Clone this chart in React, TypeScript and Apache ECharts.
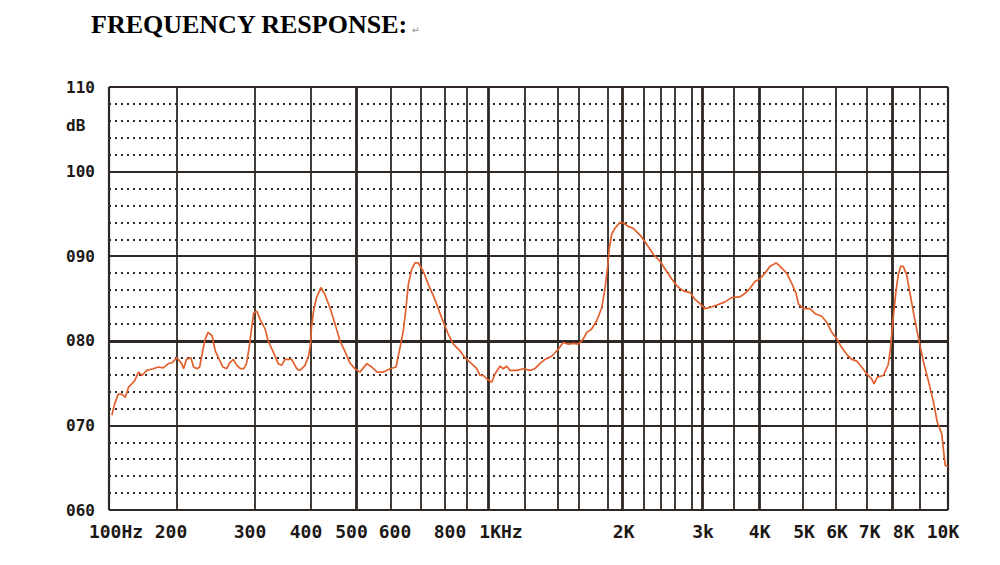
import React, { useEffect, useRef } from 'react';
import * as echarts from 'echarts';

// Printed frequency lines of the chart paper and their position on the paper scale
const gridFreqs = [100, 200, 300, 400, 500, 600, 700, 800, 900, 1000, 1200, 1400, 1600, 1800, 2000, 2200, 2400, 2600, 2800, 3000, 3500, 4000, 5000, 6000, 7000, 8000, 9000, 10000];
const gridPaper = [0, 68, 146, 202, 247.5, 282, 311.5, 336, 357.7, 379, 415.5, 448.3, 470.2, 498.5, 513.7, 534.7, 551.3, 565.7, 582.7, 593, 624.3, 650.7, 694, 727, 757.7, 783.7, 811, 839];
const boldFreqs = [500, 1000, 2000, 3000, 4000, 8000];

// Tick labels
const xLabelFreqs = [100, 200, 300, 400, 500, 600, 800, 1000, 2000, 3000, 4000, 5000, 6000, 7000, 8000, 10000];
const xLabelTexts = ['100Hz', '200', '300', '400', '500', '600', '800', '1KHz', '2K', '3k', '4K', '5K', '6K', '7K', '8K', '10K'];
const xLabelNudge = [7, -6, -5, -5, -5, 4, 5, 13, 1, 1, 0, 1, 1, 3, 11, -5];
const yLabelValues = [60, 70, 80, 90, 100, 110];
const yUnitLabel = 'dB';

// Measured response: frequency (Hz) and level (dB)
const freqHz = [
  103, 106, 110, 114, 118, 122, 126, 130, 135, 140, 147, 157, 165, 174, 183, 190, 200,
  205, 207, 210, 215, 218, 222, 225, 227, 231, 235, 240, 244, 248, 254, 259, 263, 268, 273, 278, 283, 287, 291, 295, 298,
  303, 308, 316, 321, 330, 338, 344, 350, 362, 372, 378, 388, 395, 399,
  401, 405, 411, 420, 428, 439, 450, 461, 472, 484, 496,
  509, 528, 542, 558, 576, 597,
  616, 629, 640, 649, 657, 668, 680, 692,
  711, 730, 757, 786,
  814, 837, 868, 892,
  922, 946, 961, 978, 994,
  1019, 1036, 1062, 1079, 1098, 1116, 1154, 1193,
  1231, 1260, 1290, 1321, 1365,
  1408, 1452, 1497, 1544, 1592,
  1627, 1651, 1685, 1722, 1757, 1781,
  1800, 1823, 1854, 1895, 1964,
  2012, 2052, 2098, 2164,
  2235, 2315, 2397,
  2487, 2558,
  2623, 2699, 2780,
  2862, 2960,
  3044, 3146, 3252, 3360, 3471,
  3623, 3713, 3809, 3905, 4003,
  4111, 4220, 4352, 4402, 4597, 4717, 4824, 4881,
  5004, 5196, 5346, 5545, 5700, 5860,
  6014, 6173, 6331, 6494, 6660, 6824, 7000,
  7181, 7268, 7391, 7624, 7821, 7914,
  8009, 8115, 8195, 8282, 8374, 8496, 8625, 8766, 8936,
  9112, 9285, 9459, 9604, 9767, 9831, 9894, 10000,
];
const levelDb = [
  71.2, 72.6, 73.7, 73.7, 73.3, 74.5, 74.9, 75.3, 76.3, 75.9, 76.5, 76.7, 76.9, 76.8, 77.3, 77.4, 78.0,
  77.3, 76.7, 77.8, 78.0, 76.9, 76.7, 76.9, 78.0, 80.0, 81.0, 80.6, 78.8, 78.0, 76.9, 76.7, 77.4, 77.8, 77.1, 76.7, 76.7, 77.3, 79.2, 81.6, 83.3,
  83.5, 82.5, 81.4, 80.0, 78.6, 77.3, 77.1, 77.8, 77.8, 76.7, 76.5, 77.1, 78.2, 79.6,
  81.6, 83.5, 85.1, 86.3, 85.5, 83.9, 82.0, 80.0, 78.8, 77.4, 76.7,
  76.3, 77.3, 76.9, 76.3, 76.3, 76.7,
  76.9, 79.2, 81.2, 83.9, 86.7, 88.4, 89.2, 89.2,
  88.2, 86.7, 84.9, 82.7,
  80.8, 79.6, 78.8, 78.0,
  77.3, 76.7, 75.9, 75.9, 75.5,
  75.1, 76.1, 77.0, 76.7, 77.0, 76.5, 76.5, 76.7,
  76.5, 76.7, 77.3, 77.8, 78.2,
  79.0, 79.8, 79.6, 79.7, 79.6,
  80.2, 81.0, 81.4, 82.4, 83.9, 86.1,
  88.6, 91.0, 92.6, 93.3, 94.0,
  93.9, 93.5, 93.3, 92.5,
  91.4, 90.2, 89.4,
  88.2, 87.3,
  86.5, 85.9, 85.7,
  84.9, 84.4,
  83.8, 84.0, 84.3, 84.6, 85.1,
  85.2, 85.6, 86.2, 87.0, 87.3,
  88.0, 88.8, 89.2, 89.0, 88.0, 86.8, 85.6, 84.4,
  83.8, 83.8, 83.2, 82.9, 82.2, 81.0,
  80.3, 79.2, 78.4, 77.8, 77.6, 76.9, 76.1,
  75.5, 74.9, 75.7, 75.9, 77.2, 79.2,
  82.4, 85.9, 87.8, 88.8, 88.8, 87.8, 85.5, 83.1, 80.4,
  77.6, 75.3, 72.9, 70.4, 69.0, 67.1, 65.3, 65.1,
];

// Chart-paper frequency scale: logarithmic between each pair of printed lines
function freqToPaper(f: number): number {
  if (f <= gridFreqs[0]) return gridPaper[0];
  for (let i = 0; i < gridFreqs.length - 1; i++) {
    const f0 = gridFreqs[i];
    const f1 = gridFreqs[i + 1];
    if (f <= f1) {
      const t = Math.log(f / f0) / Math.log(f1 / f0);
      return gridPaper[i] + t * (gridPaper[i + 1] - gridPaper[i]);
    }
  }
  return gridPaper[gridPaper.length - 1];
}

const GRID_COLOR = '#2e2724';
const TEXT_COLOR = '#1c1816';
const MONO = '"DejaVu Sans Mono", "Liberation Mono", monospace';

export default function App() {
  const ref = useRef<HTMLDivElement>(null);

  useEffect(() => {
    if (!ref.current) return;
    const chart = echarts.init(ref.current, undefined, { renderer: 'svg' });

    const xLabelPos = xLabelFreqs.map((f, i) => freqToPaper(f) + xLabelNudge[i]);
    const xLabelText = (v: number) => {
      let best = 0;
      let bd = Infinity;
      xLabelPos.forEach((p, i) => {
        const d = Math.abs(p - v);
        if (d < bd) { bd = d; best = i; }
      });
      return xLabelTexts[best];
    };
    const unitPos = 105.5;
    const yCustom = [...yLabelValues.slice(0, 5), unitPos, yLabelValues[5]];

    const curve = freqHz.map((f, i) => [freqToPaper(f), levelDb[i]]);
    const maxPaper = gridPaper[gridPaper.length - 1];

    const vLines: any[] = gridFreqs.map((f, i) => ({
      xAxis: gridPaper[i],
      lineStyle: {
        color: GRID_COLOR,
        type: 'solid',
        width: boldFreqs.includes(f) ? 2.8 : (i === 0 || i === gridFreqs.length - 1 ? 2.2 : 1.8),
      },
    }));
    vLines.push({ yAxis: 80, lineStyle: { color: GRID_COLOR, type: 'solid', width: 2.8 } });

    const option: any = {
      animation: false,
      backgroundColor: '#ffffff',
      title: {
        text: '{a|FREQUENCY RESPONSE:}{b|↵}',
        left: 86,
        top: 6,
        textStyle: {
          rich: {
            a: { fontFamily: '"Liberation Serif", "Times New Roman", serif', fontWeight: 'bold', fontSize: 26, color: '#000' },
            b: { fontFamily: '"DejaVu Sans", sans-serif', fontSize: 9, color: '#9a9a9a', padding: [12, 0, 0, 4] },
          },
        },
      },
      grid: { left: 109, right: 52, top: 87, bottom: 55, show: false },
      xAxis: {
        type: 'value',
        min: 0,
        max: maxPaper,
        axisLine: { show: false },
        axisTick: { show: false },
        splitLine: { show: false },
        axisLabel: {
          customValues: xLabelPos,
          formatter: (v: number) => xLabelText(v),
          margin: 12,
          fontFamily: MONO,
          fontWeight: 'bold',
          fontSize: 18,
          color: TEXT_COLOR,
        },
      },
      yAxis: {
        type: 'value',
        min: 60,
        max: 110,
        interval: 10,
        axisLine: { show: false },
        axisTick: { show: false },
        splitLine: { show: true, lineStyle: { color: GRID_COLOR, width: 1.8 } },
        minorTick: { show: false, splitNumber: 5 },
        minorSplitLine: { show: true, lineStyle: { color: '#2e2826', width: 2, type: [2, 4] } },
        axisLabel: {
          customValues: yCustom,
          formatter: (v: number) => (Math.abs(v - unitPos) < 0.01 ? yUnitLabel : String(Math.round(v)).padStart(3, '0')),
          align: 'left',
          margin: 43,
          fontFamily: MONO,
          fontWeight: 'bold',
          fontSize: 16,
          color: TEXT_COLOR,
          padding: [5, 0, 0, 0],
        },
      },
      series: [
        {
          type: 'line',
          data: [[0, 60]],
          showSymbol: false,
          silent: true,
          lineStyle: { opacity: 0 },
          z: 1,
          markLine: {
            silent: true,
            symbol: ['none', 'none'],
            label: { show: false },
            data: vLines,
          },
        },
        {
          type: 'line',
          data: curve,
          showSymbol: false,
          smooth: false,
          z: 5,
          lineStyle: { color: '#e2602d', width: 1.7 },
        },
      ],
    };

    chart.setOption(option);
    return () => chart.dispose();
  }, []);

  return (
    <div
      ref={ref}
      style={{ position: 'absolute', left: 0, top: 0, width: 1000, height: 565 }}
    />
  );
}
